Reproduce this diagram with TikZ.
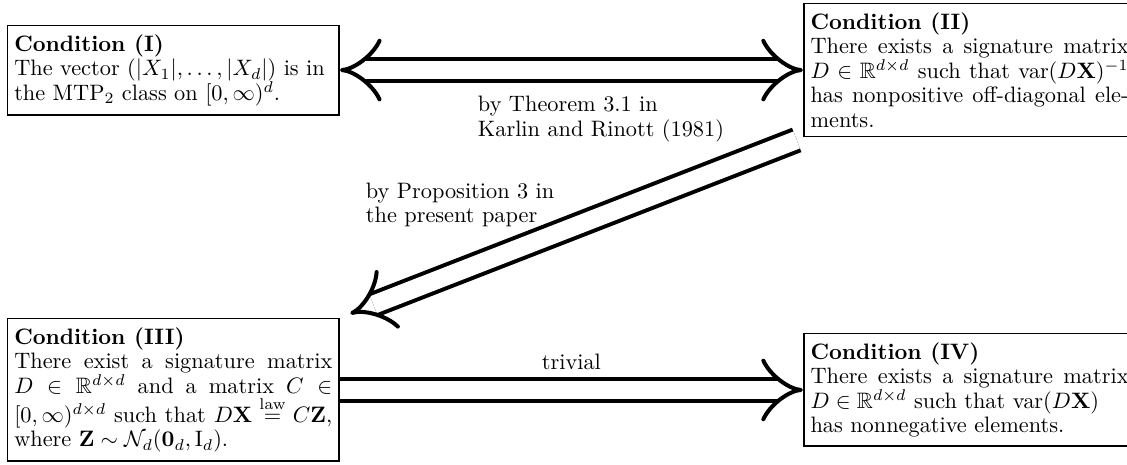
\documentclass[tikz,border=0pt]{standalone}
\usepackage{amsmath,amssymb}
\usetikzlibrary{arrows.meta,positioning}

\begin{document}
\begin{tikzpicture}[every node/.style={font=\fontsize{10}{11}\selectfont},
    cond/.style={draw,thick,text width=142.5pt,align=justify,inner xsep=3pt,inner ysep=4pt},
    impl/.style={double,line width=1.8pt,double distance=8.1pt}]
      \useasboundingbox (0,0) rectangle (504.9pt,207.9pt);
      \node[cond,anchor=west] (c1) at (3pt,176.5pt) {\textbf{Condition (I)}\\ The vector $(|X_1|,\dots,|X_d|)$ is in\newline the MTP$_2$ class on $[0,\infty)^d$.};
      \node[cond,right=207.4pt of c1] (c2) {\textbf{Condition (II)}\\ There exists a signature matrix\linebreak $D\in\mathbb{R}^{d\times d}$ such that $\mathrm{var}(D\mathbf{X})^{-1}$\linebreak has nonpositive off-diagonal ele-\linebreak ments.};
      \node[cond,anchor=west] (c3) at (3pt,33.2pt) {\textbf{Condition (III)}\\ There exist a signature matrix\linebreak $D\in\mathbb{R}^{d\times d}$ and a matrix $C\in$\linebreak $[0,\infty)^{d\times d}$ such that $D\mathbf{X}\overset{\mathrm{law}}{=}C\mathbf{Z}$,\linebreak where $\mathbf{Z}\sim\mathcal{N}_d(\mathbf{0}_d,\mathrm{I}_d)$.};
      \node[cond,right=207.4pt of c3] (c4) {\textbf{Condition (IV)}\\ There exists a signature matrix\linebreak $D\in\mathbb{R}^{d\times d}$ such that $\mathrm{var}(D\mathbf{X})$\newline has nonnegative elements.};
      \node[align=left,anchor=north west] (thm) at (210.6pt,168.4pt) {by Theorem 3.1 in\\Karlin and Rinott (1981)};
      \node[align=left,anchor=north west] (prop) at (160.4pt,129.5pt) {by Proposition 3 in\\the present paper};
      \draw[impl,{Implies[length=17.9pt,width=27.3pt]}-{Implies[length=17.9pt,width=27.3pt]}] (c1)--(c2);
      \draw[impl,-{Implies[length=17.9pt,width=27.3pt]},shorten <=3pt,shorten >=5pt] (c2.south west)--(c3.north east);
      \draw[impl,-{Implies[length=17.9pt,width=27.3pt]}] (c3)--(c4) node[midway,above=5pt] (triv) {trivial};
    \end{tikzpicture}
\end{document}
